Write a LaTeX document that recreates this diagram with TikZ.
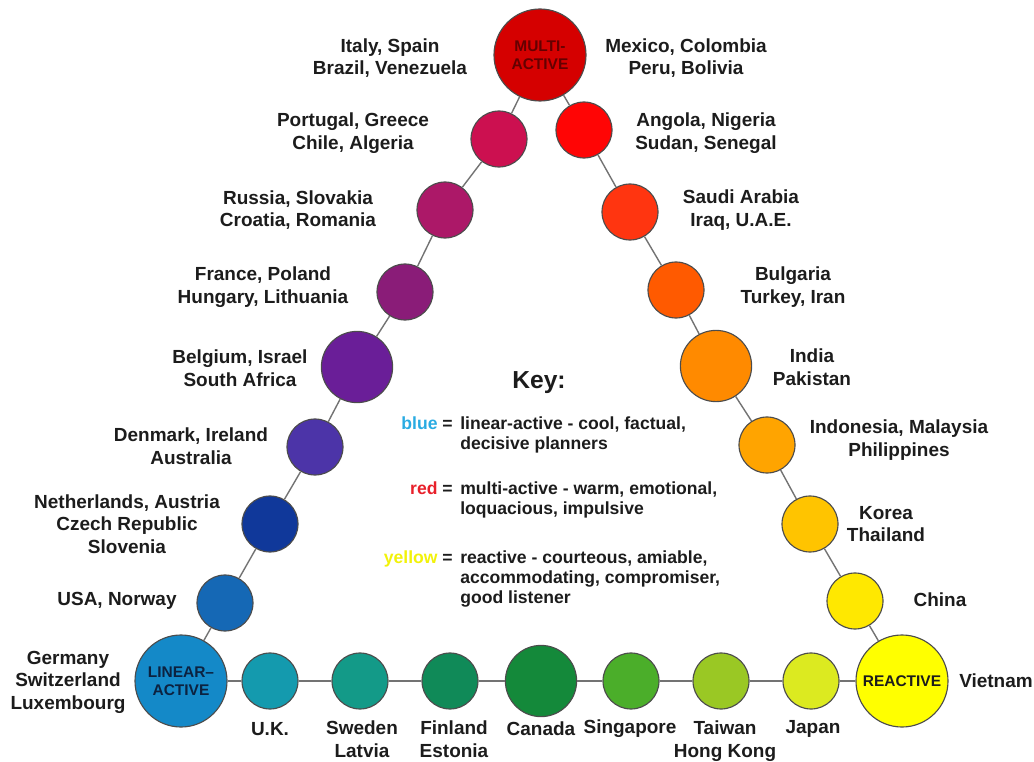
\documentclass[tikz,border=0pt]{standalone}
\usepackage{fontspec}
\setmainfont{Liberation Sans}
\usetikzlibrary{positioning}

\definecolor{cMulti}{HTML}{D50000}
\definecolor{cAo}{HTML}{FF0505}
\definecolor{cSa}{HTML}{FF3510}
\definecolor{cBg}{HTML}{FF5A00}
\definecolor{cIn}{HTML}{FF8A00}
\definecolor{cId}{HTML}{FFA400}
\definecolor{cKr}{HTML}{FFC400}
\definecolor{cCn}{HTML}{FFE800}
\definecolor{cRea}{HTML}{FFFF00}
\definecolor{cJp}{HTML}{DCEA20}
\definecolor{cTw}{HTML}{9AC824}
\definecolor{cSg}{HTML}{4BAE2A}
\definecolor{cCa}{HTML}{14893A}
\definecolor{cFi}{HTML}{108A58}
\definecolor{cSe}{HTML}{139A88}
\definecolor{cUk}{HTML}{149AAE}
\definecolor{cLin}{HTML}{1489C8}
\definecolor{cUs}{HTML}{1568B5}
\definecolor{cNl}{HTML}{10389A}
\definecolor{cDk}{HTML}{4C34A8}
\definecolor{cBe}{HTML}{6A1E98}
\definecolor{cFr}{HTML}{8A1C78}
\definecolor{cRu}{HTML}{AC1868}
\definecolor{cPt}{HTML}{CC1050}
\definecolor{ink}{HTML}{1C1C1C}
\definecolor{keyblue}{HTML}{29ABE2}
\definecolor{keyred}{HTML}{E8202A}
\definecolor{keyyellow}{HTML}{F2F20A}
\definecolor{multiink}{HTML}{640000}
\definecolor{linink}{HTML}{0C2240}

\begin{document}
\begin{tikzpicture}[x=.025cm,y=-.025cm,
 font=\bfseries\fontsize{13.5}{16}\selectfont,
 dot/.style={circle,draw=black!70,line width=.8pt,minimum size=1.4cm,inner sep=0pt},
 middot/.style={dot,minimum size=1.78cm},
 hub/.style={dot,minimum size=2.3cm,align=center,font=\bfseries\fontsize{11}{12.5}\selectfont},
 lbl/.style={align=center,text=ink,inner sep=0pt},
 keytxt/.style={align=left,text=ink,inner sep=0pt,font=\bfseries\fontsize{12.5}{14.5}\selectfont},
 link/.style={draw=black!55,line width=1pt}]
\useasboundingbox (0,0) rectangle (1034,762);

% the three poles
\node[hub,fill=cMulti,text=multiink] (multi) at (540,55) {MULTI-\\ACTIVE};
\node[hub,fill=cLin,text=linink] (lin) at (181,681) {LINEAR--\\ACTIVE};
\node[hub,fill=cRea,text=ink] (rea) at (902,681) {REACTIVE};

% left side
\node[dot,fill=cPt] (pt) at (499,139) {};
\node[dot,fill=cRu] (ru) at (445,210) {};
\node[dot,fill=cFr] (fr) at (405,292) {};
\node[middot,fill=cBe] (be) at (357,367) {};
\node[dot,fill=cDk] (dk) at (315,447) {};
\node[dot,fill=cNl] (nl) at (270,524) {};
\node[dot,fill=cUs] (us) at (225,603) {};

% right side
\node[dot,fill=cAo] (ao) at (584,130) {};
\node[dot,fill=cSa] (sa) at (630,212) {};
\node[dot,fill=cBg] (bg) at (676,290) {};
\node[middot,fill=cIn] (in) at (716,366) {};
\node[dot,fill=cId] (id) at (767,445) {};
\node[dot,fill=cKr] (kr) at (810,524) {};
\node[dot,fill=cCn] (cn) at (855,601) {};

% bottom
\node[dot,fill=cUk] (uk) at (270,681) {};
\node[dot,fill=cSe] (se) at (360,681) {};
\node[dot,fill=cFi] (fi) at (450,681) {};
\node[middot,fill=cCa] (ca) at (541,681) {};
\node[dot,fill=cSg] (sg) at (631,681) {};
\node[dot,fill=cTw] (tw) at (721,681) {};
\node[dot,fill=cJp] (jp) at (811,681) {};

\foreach \a/\b in {multi/pt,pt/ru,ru/fr,fr/be,be/dk,dk/nl,nl/us,us/lin,
 multi/ao,ao/sa,sa/bg,bg/in,in/id,id/kr,kr/cn,cn/rea,
 lin/uk,uk/se,se/fi,fi/ca,ca/sg,sg/tw,tw/jp,jp/rea}
 \draw[link] (\a) -- (\b);

% country labels
\node[lbl] (l-it) at (390,58) {Italy, Spain\\Brazil, Venezuela};
\node[lbl] (l-mx) at (686,58) {Mexico, Colombia\\Peru, Bolivia};
\node[lbl] (l-pt) at (353,133) {Portugal, Greece\\Chile, Algeria};
\node[lbl] (l-ao) at (706,133) {Angola, Nigeria\\Sudan, Senegal};
\node[lbl] (l-ru) at (298,210) {Russia, Slovakia\\Croatia, Romania};
\node[lbl] (l-sa) at (741,210) {Saudi Arabia\\Iraq, U.A.E.};
\node[lbl] (l-fr) at (263,287) {France, Poland\\Hungary, Lithuania};
\node[lbl] (l-bg) at (793,287) {Bulgaria\\Turkey, Iran};
\node[lbl] (l-be) at (240,368) {Belgium, Israel\\South Africa};
\node[lbl] (l-in) at (812,367) {India\\Pakistan};
\node[lbl] (l-dk) at (191,446) {Denmark, Ireland\\Australia};
\node[lbl] (l-id) at (899,440) {Indonesia, Malaysia\\Philippines};
\node[lbl] (l-nl) at (127,524) {Netherlands, Austria\\Czech Republic\\Slovenia};
\node[lbl] (l-kr) at (886,524) {Korea\\Thailand};
\node[lbl] (l-us) at (117,601) {USA, Norway};
\node[lbl] (l-cn) at (940,600) {China};
\node[lbl] (l-de) at (68,682) {Germany\\Switzerland\\Luxembourg};
\node[lbl] (l-vn) at (996,681) {Vietnam};
\node[lbl] (l-uk) at (270,729) {U.K.};
\node[lbl] (l-se) at (362,739) {Sweden\\Latvia};
\node[lbl] (l-fi) at (454,739) {Finland\\Estonia};
\node[lbl] (l-ca) at (541,729) {Canada};
\node[lbl] (l-sg) at (630,729) {Singapore};
\node[lbl] (l-tw) at (725,741) {Taiwan\\Hong Kong};
\node[lbl] (l-jp) at (813,729) {Japan};

% key
\node[lbl,font=\bfseries\fontsize{17.5}{20}\selectfont] (key) at (539,383) {Key:};
\node[keytxt,anchor=north east] (k-blue) at (453,416) {\textcolor{keyblue}{blue} =};
\node[keytxt,anchor=north west] (d-blue) at (460,416) {linear-active - cool, factual,\\decisive planners};
\node[keytxt,anchor=north east] (k-red) at (453,481) {\textcolor{keyred}{red} =};
\node[keytxt,anchor=north west] (d-red) at (460,481) {multi-active - warm, emotional,\\loquacious, impulsive};
\node[keytxt,anchor=north east] (k-yel) at (453,550) {\textcolor{keyyellow}{yellow} =};
\node[keytxt,anchor=north west] (d-yel) at (460,550) {reactive - courteous, amiable,\\accommodating, compromiser,\\good listener};
\end{tikzpicture}
\end{document}
